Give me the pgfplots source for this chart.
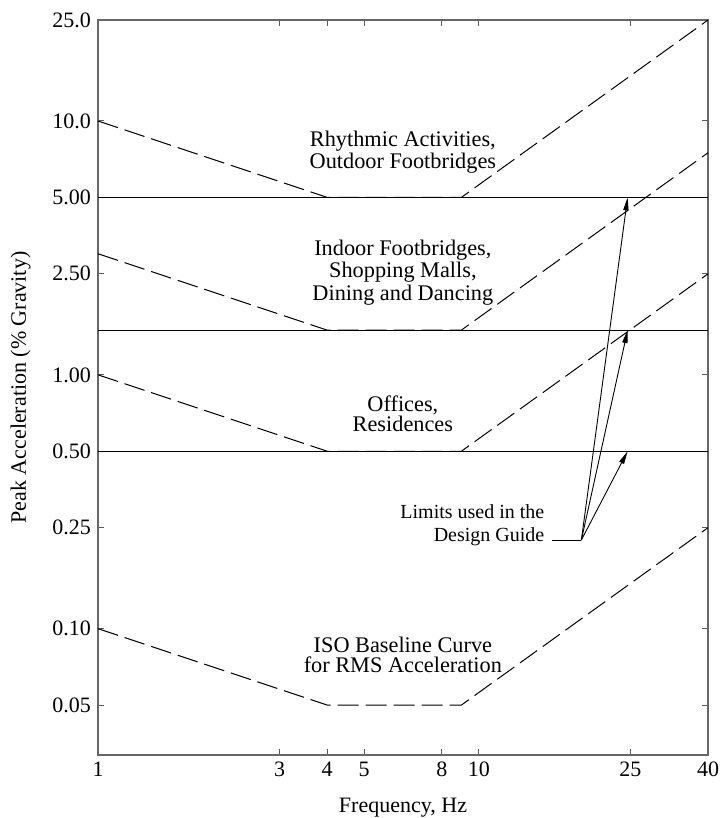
\documentclass[border=0pt]{standalone}
\usepackage{fontspec}
\setmainfont{Liberation Serif}
\usepackage{pgfplots}
\pgfplotsset{compat=1.18}
\usetikzlibrary{arrows.meta}

\begin{document}
\begin{tikzpicture}
\useasboundingbox (-49pt,-31.5pt) rectangle (311pt,377.5pt);
\begin{axis}[
  at={(0,0)}, anchor=south west,
  scale only axis, width=305pt, height=367.5pt,
  xmode=log, ymode=log,
  xmin=1, xmax=40, ymin=0.0318, ymax=25,
  xtick={1,3,4,5,8,10,25,40},
  xticklabels={1,3,4,5,8,10,25,40},
  ytick={0.05,0.1,0.25,0.5,1,2.5,5,10,25},
  yticklabels={0.05,0.10,0.25,0.50,1.00,2.50,5.00,10.0,25.0},
  minor tick num=0, xminorticks=false, yminorticks=false,
  tick pos=both, tick align=inside, major tick length=3pt,
  tick style={black!65, line width=0.5pt},
  axis line style={black!60, line width=0.7pt},
  ticklabel style={font=\fontsize{11}{13}\selectfont},
  /pgf/number format/assume math mode=true,
  xlabel={Frequency, Hz},
  ylabel={Peak Acceleration (\% Gravity)},
  label style={font=\fontsize{11}{13}\selectfont},
  xlabel style={at={(axis description cs:0.5,-0.072)}, anchor=center},
  ylabel style={at={(axis description cs:-0.127,0.5)}, anchor=center},
  clip=false,
]
% design-guide limits (solid)
\addplot[black, line width=0.5pt] coordinates {(1,5) (40,5)};
\addplot[black, line width=0.5pt] coordinates {(1,1.5) (40,1.5)};
\addplot[black, line width=0.5pt] coordinates {(1,0.5) (40,0.5)};
% ISO-type curves (dashed)
\addplot[black, line width=0.5pt, dash pattern=on 10.5pt off 3.5pt] coordinates {(1,10) (4,5) (9,5) (40,25)};
\addplot[black, line width=0.5pt, dash pattern=on 10.5pt off 3.5pt] coordinates {(1,3) (4,1.5) (9,1.5) (40,7.5)};
\addplot[black, line width=0.5pt, dash pattern=on 10.5pt off 3.5pt] coordinates {(1,1) (4,0.5) (9,0.5) (40,2.5)};
\addplot[black, line width=0.5pt, dash pattern=on 10.5pt off 3.5pt] coordinates {(1,0.1) (4,0.05) (9,0.05) (40,0.25)};

\node[align=center, font=\fontsize{11.15}{10}\selectfont] at (axis cs:6.32,7.55) {Rhythmic Activities,\\ Outdoor Footbridges};
\node[align=center, font=\fontsize{11.15}{10}\selectfont] at (axis cs:6.32,2.53) {Indoor Footbridges,\\ Shopping Malls,\\ Dining and Dancing};
\node[align=center, font=\fontsize{11.15}{10}\selectfont] at (axis cs:6.32,0.70) {Offices,\\ Residences};
\node[align=center, font=\fontsize{11.15}{10}\selectfont] at (axis cs:6.32,0.079) {ISO Baseline Curve\\ for RMS Acceleration};
\node[align=right, anchor=east, inner sep=0pt, font=\fontsize{10}{11.5}\selectfont] at (axis cs:14.9,0.255) {Limits used in the\\ Design Guide};

\draw[black, line width=0.5pt] (axis cs:15.55,0.2235) -- (axis cs:18.6,0.2235);
\draw[black, line width=0.45pt, -{Triangle[length=6.5pt,width=2.6pt]}] (axis cs:18.6,0.2235) -- (axis cs:24.6,5);
\draw[black, line width=0.45pt, -{Triangle[length=6.5pt,width=2.6pt]}] (axis cs:18.6,0.2235) -- (axis cs:24.6,1.5);
\draw[black, line width=0.45pt, -{Triangle[length=6.5pt,width=2.6pt]}] (axis cs:18.6,0.2235) -- (axis cs:24.6,0.5);
\end{axis}
\end{tikzpicture}
\end{document}
